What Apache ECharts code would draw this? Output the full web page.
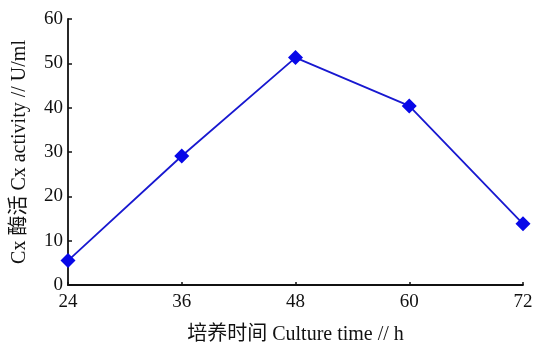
<!DOCTYPE html>
<html>
<head>
<meta charset="utf-8">
<script src="https://cdn.jsdelivr.net/npm/echarts@6/dist/echarts.min.js"></script>
<style>
  html, body { margin: 0; padding: 0; background: #fff; }
  #chart { width: 534px; height: 345px; }
</style>
</head>
<body>
<div id="chart"></div>
<script>
// Culture time (h) and Cx enzyme activity (U/ml)
const cultureHours = [24, 36, 48, 60, 72];
const cxActivity = [5.5, 29.1, 51.3, 40.4, 13.8];

const xTitle = '培养时间 Culture time // h';
const yTitle = 'Cx 酶活 Cx activity // U/ml';

const textFont = '"Liberation Serif", "Noto Sans CJK SC", serif';
const ink = '#111';

const chart = echarts.init(document.getElementById('chart'), null, { renderer: 'canvas' });

chart.setOption({
  animation: false,
  backgroundColor: '#fff',
  grid: { left: 68, right: 11, top: 19, bottom: 60, containLabel: false, outerBoundsMode: 'none' },
  xAxis: {
    type: 'value',
    min: 24, max: 72, interval: 12,
    name: xTitle,
    nameLocation: 'middle',
    nameGap: 40,
    nameTextStyle: { fontFamily: textFont, fontSize: 20, color: ink },
    axisLine: { show: true, lineStyle: { color: ink, width: 1.8 } },
    axisTick: { show: true, inside: true, length: 3, lineStyle: { color: ink, width: 1.5 } },
    axisLabel: { fontFamily: textFont, fontSize: 19, color: ink, margin: 8 },
    splitLine: { show: false }
  },
  yAxis: {
    type: 'value',
    min: 0, max: 60, interval: 10,
    name: yTitle,
    nameLocation: 'middle',
    nameRotate: 90,
    nameGap: 38,
    nameTextStyle: { fontFamily: textFont, fontSize: 20, color: ink },
    axisLine: { show: true, lineStyle: { color: ink, width: 1.8 } },
    axisTick: { show: true, inside: true, length: 4, lineStyle: { color: ink, width: 1.5 } },
    axisLabel: { fontFamily: textFont, fontSize: 19, color: ink, margin: 5 },
    splitLine: { show: false }
  },
  series: [{
    type: 'line',
    data: cultureHours.map((h, i) => [h, cxActivity[i]]),
    symbol: 'diamond',
    symbolSize: 15,
    lineStyle: { color: '#1818d0', width: 1.8 },
    itemStyle: { color: '#0808e8' },
    clip: false
  }]
});
</script>
</body>
</html>
